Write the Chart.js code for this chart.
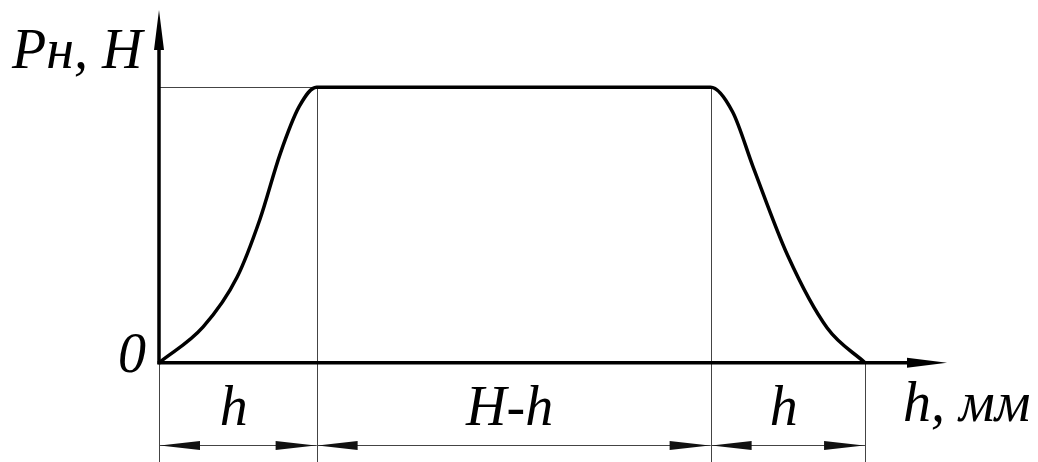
<!DOCTYPE html>
<html>
<head>
<meta charset="utf-8">
<script src="https://cdn.jsdelivr.net/npm/chart.js@4.4.0/dist/chart.umd.min.js"></script>
<style>
  body { margin: 0; background: #fff; }
  #wrap { width: 1038px; height: 462px; }
</style>
</head>
<body>
<div id="wrap"><canvas id="chart"></canvas></div>
<script>
// curve: rising part, plateau, falling part (h units, force in % of max)
const riseX = [0, 2.8, 4.95, 6.4, 7.7, 8.9, 10];
const riseY = [0, 13, 31, 52, 76, 93, 100];
const fallX = [35, 36.4, 37.7, 39.9, 42.4, 44.8];
const fallY = [100, 91, 71, 38.8, 12.6, 0];

// dimension chain below the axis
const dimStops = [0, 10, 35, 44.8];
const dimLabels = ['h', 'H-h', 'h'];
const levelTop = 100;

const yAxisLabel = 'Pн, H';
const xAxisLabel = 'h, мм';
const originLabel = '0';

const curve = riseX.map((x, i) => ({ x: x, y: riseY[i] }))
    .concat(fallX.map((x, i) => ({ x: x, y: fallY[i] })));

const FONT = 'italic 56px "Liberation Serif", "Times New Roman", serif';

function arrowHead(ctx, tx, ty, dx, dy, len, half) {
    // tip at (tx,ty), pointing along (dx,dy)
    const bx = tx - dx * len, by = ty - dy * len;
    ctx.beginPath();
    ctx.moveTo(tx, ty);
    ctx.lineTo(bx - dy * half, by + dx * half);
    ctx.lineTo(bx + dy * half, by - dx * half);
    ctx.closePath();
    ctx.fill();
}

// thin guides, dimension lines, axes with arrows and the labels
const drawing = {
    id: 'drawing',
    beforeDatasetsDraw(chart) {
        const ctx = chart.ctx;
        const xs = chart.scales.x, ys = chart.scales.y;
        const area = chart.chartArea;
        const y0 = ys.getPixelForValue(0);
        const yTop = ys.getPixelForValue(levelTop);
        const yBottom = area.bottom;
        ctx.save();
        ctx.strokeStyle = '#444';
        ctx.lineWidth = 1;
        // extension lines
        dimStops.forEach((v, i) => {
            const px = Math.round(xs.getPixelForValue(v)) + 0.5;
            const inner = i === 1 || i === 2;
            ctx.beginPath();
            ctx.moveTo(px, inner ? yTop : y0);
            ctx.lineTo(px, yBottom);
            ctx.stroke();
        });
        // level guide
        ctx.beginPath();
        ctx.moveTo(xs.getPixelForValue(0), Math.round(yTop) + 0.5);
        ctx.lineTo(xs.getPixelForValue(riseX[riseX.length - 1]), Math.round(yTop) + 0.5);
        ctx.stroke();
        // dimension lines
        const yd = Math.round(ys.getPixelForValue(-30)) + 0.5;
        ctx.fillStyle = '#111';
        for (let i = 0; i < dimStops.length - 1; i++) {
            const a = xs.getPixelForValue(dimStops[i]);
            const b = xs.getPixelForValue(dimStops[i + 1]);
            ctx.beginPath();
            ctx.moveTo(a, yd);
            ctx.lineTo(b, yd);
            ctx.stroke();
            arrowHead(ctx, a + 1, yd, -1, 0, 40, 4.5);
            arrowHead(ctx, b - 1, yd, 1, 0, 40, 4.5);
        }
        ctx.restore();
    },
    afterDraw(chart) {
        const ctx = chart.ctx;
        const xs = chart.scales.x, ys = chart.scales.y;
        const area = chart.chartArea;
        const x0 = xs.getPixelForValue(0);
        const y0 = ys.getPixelForValue(0);
        ctx.save();
        ctx.strokeStyle = '#000';
        ctx.fillStyle = '#000';
        ctx.lineWidth = 3.5;
        // y axis
        ctx.beginPath();
        ctx.moveTo(x0, y0 + 1.5);
        ctx.lineTo(x0, area.top + 30);
        ctx.stroke();
        arrowHead(ctx, x0, area.top, 0, -1, 40, 5);
        // x axis
        ctx.beginPath();
        ctx.moveTo(x0 - 1.5, y0);
        ctx.lineTo(area.right - 30, y0);
        ctx.stroke();
        arrowHead(ctx, area.right, y0, 1, 0, 40, 5);

        // labels
        ctx.font = FONT;
        ctx.textBaseline = 'alphabetic';
        ctx.textAlign = 'left';
        ctx.fillText(yAxisLabel, x0 - 147, area.top + 58);
        ctx.textAlign = 'right';
        ctx.fillText(originLabel, x0 - 13, y0 + 9);
        ctx.textAlign = 'center';
        dimLabels.forEach((t, i) => {
            const mid = (xs.getPixelForValue(dimStops[i]) + xs.getPixelForValue(dimStops[i + 1])) / 2;
            ctx.fillText(t, mid - 4, y0 + 62);
        });
        ctx.textAlign = 'left';
        ctx.fillText(xAxisLabel, xs.getPixelForValue(dimStops[dimStops.length - 1]) + 38, y0 + 58);
        ctx.restore();
    }
};

new Chart(document.getElementById('chart'), {
    type: 'line',
    data: {
        datasets: [{
            data: curve,
            borderColor: '#000',
            borderWidth: 3.5,
            pointRadius: 0,
            cubicInterpolationMode: 'monotone',
            fill: false,
            clip: false
        }]
    },
    options: {
        responsive: true,
        maintainAspectRatio: false,
        animation: false,
        devicePixelRatio: 1,
        layout: { padding: { left: 159, right: 91, top: 10, bottom: 0 } },
        plugins: { legend: { display: false }, tooltip: { enabled: false } },
        scales: {
            x: { type: 'linear', min: 0, max: 50, display: false },
            y: { type: 'linear', min: -36, max: 128, display: false }
        }
    },
    plugins: [drawing]
});
</script>
</body>
</html>
